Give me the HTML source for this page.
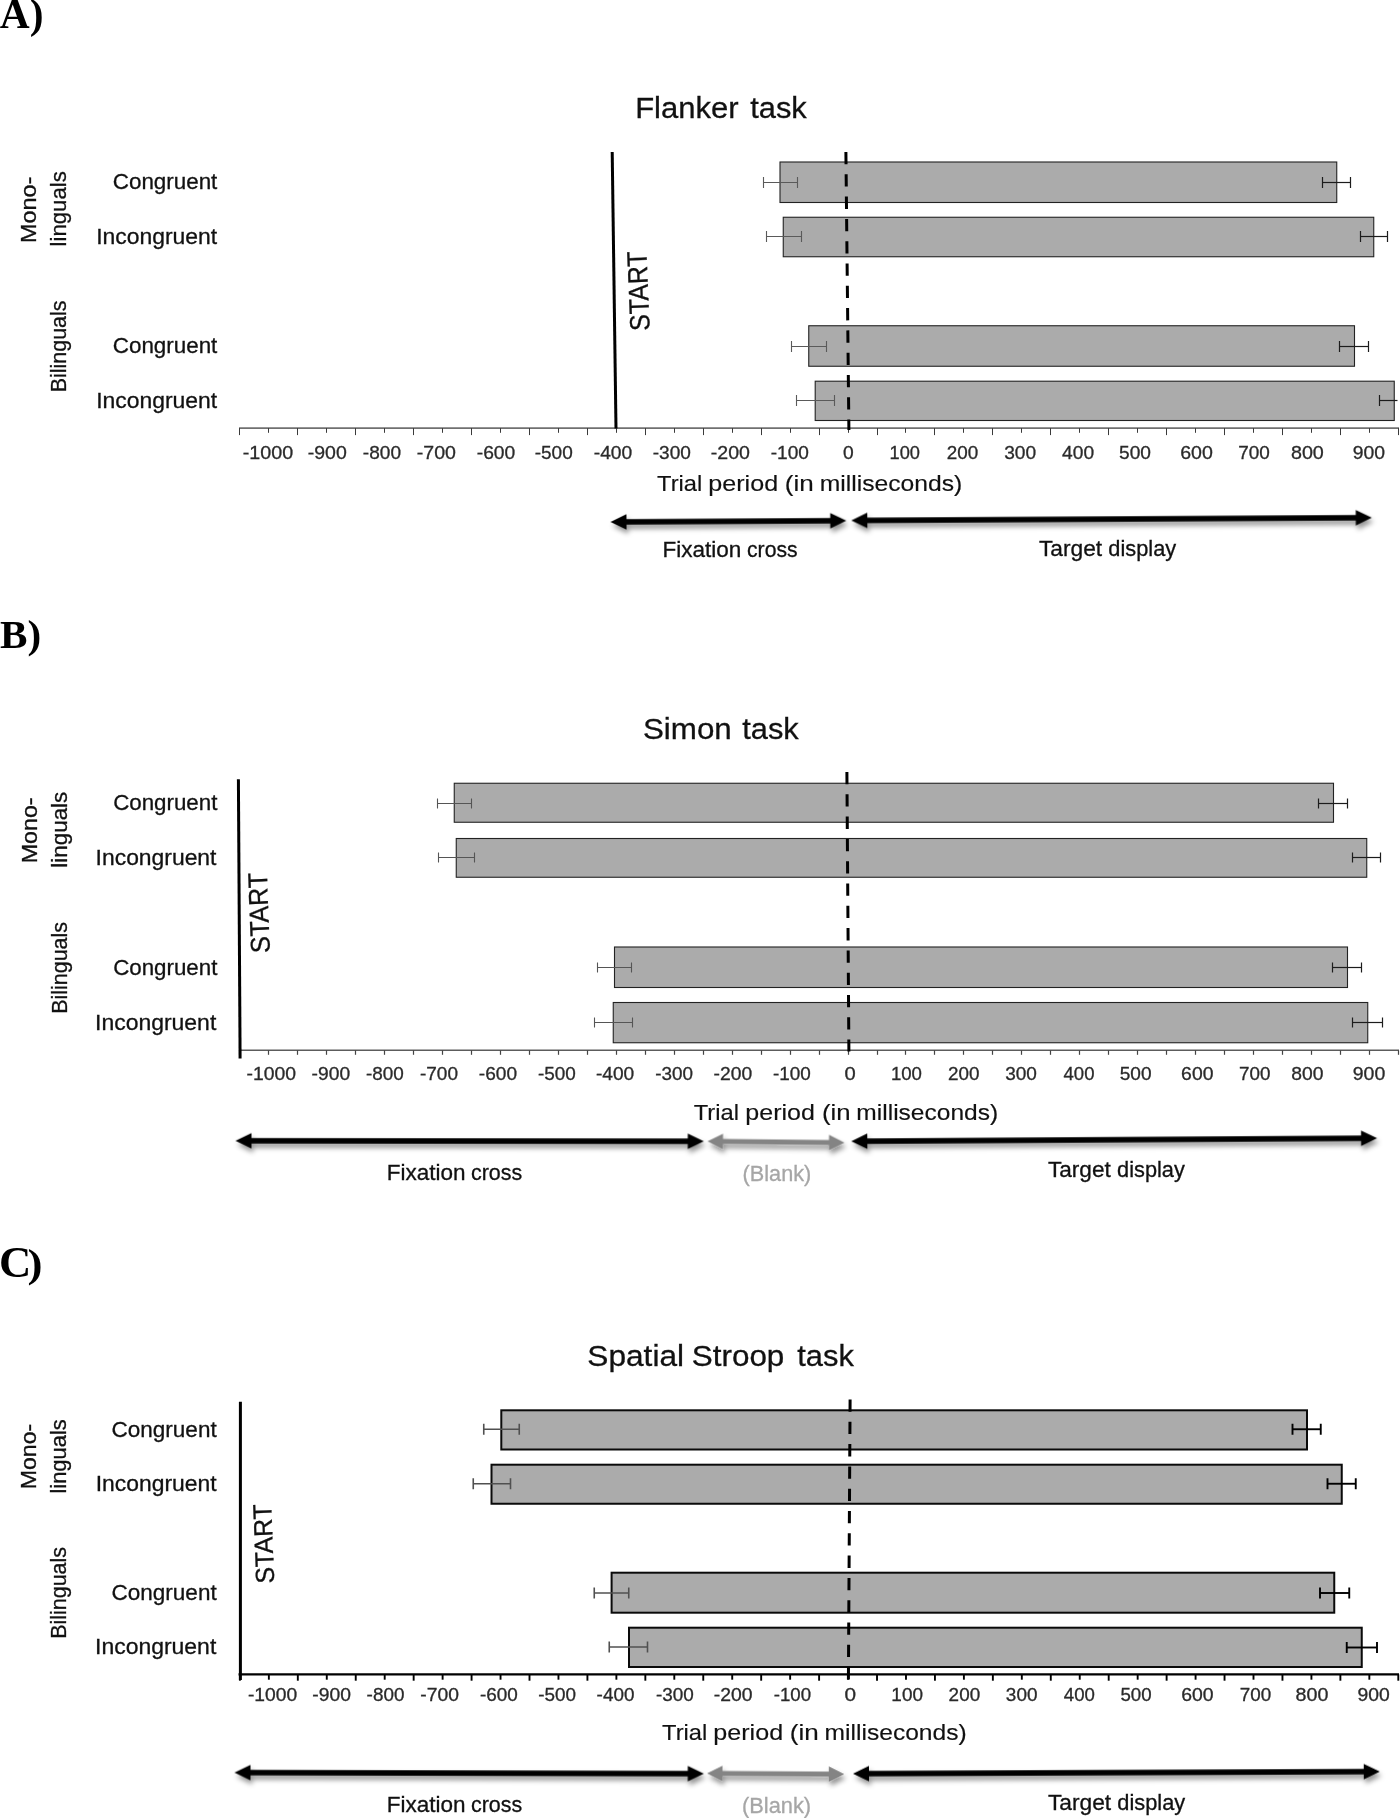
<!DOCTYPE html>
<html lang="en">
<head>
<meta charset="utf-8">
<title>Trial period figure</title>
<style>
html,body{margin:0;padding:0;background:#fff;}
body{width:1400px;height:1818px;overflow:hidden;font-family:"Liberation Sans",sans-serif;}
svg{display:block;position:absolute;left:0;top:0;}
text{white-space:pre;}
</style>
</head>
<body>
<svg width="1400" height="1818" viewBox="0 0 1400 1818">
<defs><filter id="sh" x="-5%" y="-150%" width="110%" height="400%"><feDropShadow dx="1.8" dy="4.1" stdDeviation="2.7" flood-color="#000" flood-opacity="0.42"/></filter></defs>
<rect x="0" y="0" width="1400" height="1818" fill="#fff"/>
<g id="shapes">
<line x1="239.00" y1="428.10" x2="1399.00" y2="428.10" stroke="#707070" stroke-width="1.6" />
<line x1="239.50" y1="428.10" x2="239.50" y2="435.10" stroke="#3a3a3a" stroke-width="1" />
<line x1="268.50" y1="428.10" x2="268.50" y2="432.80" stroke="#3a3a3a" stroke-width="1" />
<line x1="297.50" y1="428.10" x2="297.50" y2="435.10" stroke="#3a3a3a" stroke-width="1" />
<line x1="326.50" y1="428.10" x2="326.50" y2="432.80" stroke="#3a3a3a" stroke-width="1" />
<line x1="355.50" y1="428.10" x2="355.50" y2="435.10" stroke="#3a3a3a" stroke-width="1" />
<line x1="384.50" y1="428.10" x2="384.50" y2="432.80" stroke="#3a3a3a" stroke-width="1" />
<line x1="413.50" y1="428.10" x2="413.50" y2="435.10" stroke="#3a3a3a" stroke-width="1" />
<line x1="442.50" y1="428.10" x2="442.50" y2="432.80" stroke="#3a3a3a" stroke-width="1" />
<line x1="471.50" y1="428.10" x2="471.50" y2="435.10" stroke="#3a3a3a" stroke-width="1" />
<line x1="500.50" y1="428.10" x2="500.50" y2="432.80" stroke="#3a3a3a" stroke-width="1" />
<line x1="529.50" y1="428.10" x2="529.50" y2="435.10" stroke="#3a3a3a" stroke-width="1" />
<line x1="558.50" y1="428.10" x2="558.50" y2="432.80" stroke="#3a3a3a" stroke-width="1" />
<line x1="587.50" y1="428.10" x2="587.50" y2="435.10" stroke="#3a3a3a" stroke-width="1" />
<line x1="616.50" y1="428.10" x2="616.50" y2="432.80" stroke="#3a3a3a" stroke-width="1" />
<line x1="645.50" y1="428.10" x2="645.50" y2="435.10" stroke="#3a3a3a" stroke-width="1" />
<line x1="674.50" y1="428.10" x2="674.50" y2="432.80" stroke="#3a3a3a" stroke-width="1" />
<line x1="703.50" y1="428.10" x2="703.50" y2="435.10" stroke="#3a3a3a" stroke-width="1" />
<line x1="732.50" y1="428.10" x2="732.50" y2="432.80" stroke="#3a3a3a" stroke-width="1" />
<line x1="761.50" y1="428.10" x2="761.50" y2="435.10" stroke="#3a3a3a" stroke-width="1" />
<line x1="790.50" y1="428.10" x2="790.50" y2="432.80" stroke="#3a3a3a" stroke-width="1" />
<line x1="819.50" y1="428.10" x2="819.50" y2="435.10" stroke="#3a3a3a" stroke-width="1" />
<line x1="848.50" y1="428.10" x2="848.50" y2="432.80" stroke="#3a3a3a" stroke-width="1" />
<line x1="877.50" y1="428.10" x2="877.50" y2="435.10" stroke="#3a3a3a" stroke-width="1" />
<line x1="905.50" y1="428.10" x2="905.50" y2="432.80" stroke="#3a3a3a" stroke-width="1" />
<line x1="934.50" y1="428.10" x2="934.50" y2="435.10" stroke="#3a3a3a" stroke-width="1" />
<line x1="963.50" y1="428.10" x2="963.50" y2="432.80" stroke="#3a3a3a" stroke-width="1" />
<line x1="992.50" y1="428.10" x2="992.50" y2="435.10" stroke="#3a3a3a" stroke-width="1" />
<line x1="1021.50" y1="428.10" x2="1021.50" y2="432.80" stroke="#3a3a3a" stroke-width="1" />
<line x1="1050.50" y1="428.10" x2="1050.50" y2="435.10" stroke="#3a3a3a" stroke-width="1" />
<line x1="1079.50" y1="428.10" x2="1079.50" y2="432.80" stroke="#3a3a3a" stroke-width="1" />
<line x1="1108.50" y1="428.10" x2="1108.50" y2="435.10" stroke="#3a3a3a" stroke-width="1" />
<line x1="1137.50" y1="428.10" x2="1137.50" y2="432.80" stroke="#3a3a3a" stroke-width="1" />
<line x1="1166.50" y1="428.10" x2="1166.50" y2="435.10" stroke="#3a3a3a" stroke-width="1" />
<line x1="1195.50" y1="428.10" x2="1195.50" y2="432.80" stroke="#3a3a3a" stroke-width="1" />
<line x1="1224.50" y1="428.10" x2="1224.50" y2="435.10" stroke="#3a3a3a" stroke-width="1" />
<line x1="1253.50" y1="428.10" x2="1253.50" y2="432.80" stroke="#3a3a3a" stroke-width="1" />
<line x1="1282.50" y1="428.10" x2="1282.50" y2="435.10" stroke="#3a3a3a" stroke-width="1" />
<line x1="1311.50" y1="428.10" x2="1311.50" y2="432.80" stroke="#3a3a3a" stroke-width="1" />
<line x1="1340.50" y1="428.10" x2="1340.50" y2="435.10" stroke="#3a3a3a" stroke-width="1" />
<line x1="1369.50" y1="428.10" x2="1369.50" y2="432.80" stroke="#3a3a3a" stroke-width="1" />
<line x1="1398.50" y1="428.10" x2="1398.50" y2="435.10" stroke="#3a3a3a" stroke-width="1" />
<rect x="780.00" y="162.00" width="556.75" height="40.50" fill="#ababab" stroke="#222" stroke-width="1.1"/>
<rect x="783.25" y="217.25" width="590.50" height="39.50" fill="#ababab" stroke="#222" stroke-width="1.1"/>
<rect x="808.75" y="325.75" width="545.75" height="40.50" fill="#ababab" stroke="#222" stroke-width="1.1"/>
<rect x="815.20" y="381.20" width="579.05" height="39.30" fill="#ababab" stroke="#222" stroke-width="1.1"/>
<line x1="763.50" y1="182.50" x2="797.50" y2="182.50" stroke="#5a5a5a" stroke-width="1.1" />
<line x1="763.50" y1="177.00" x2="763.50" y2="188.00" stroke="#5a5a5a" stroke-width="1.1" />
<line x1="797.50" y1="177.00" x2="797.50" y2="188.00" stroke="#5a5a5a" stroke-width="1.1" />
<line x1="766.50" y1="236.50" x2="801.50" y2="236.50" stroke="#5a5a5a" stroke-width="1.1" />
<line x1="766.50" y1="231.00" x2="766.50" y2="242.00" stroke="#5a5a5a" stroke-width="1.1" />
<line x1="801.50" y1="231.00" x2="801.50" y2="242.00" stroke="#5a5a5a" stroke-width="1.1" />
<line x1="791.50" y1="346.50" x2="826.50" y2="346.50" stroke="#5a5a5a" stroke-width="1.1" />
<line x1="791.50" y1="341.00" x2="791.50" y2="352.00" stroke="#5a5a5a" stroke-width="1.1" />
<line x1="826.50" y1="341.00" x2="826.50" y2="352.00" stroke="#5a5a5a" stroke-width="1.1" />
<line x1="796.50" y1="400.50" x2="834.50" y2="400.50" stroke="#5a5a5a" stroke-width="1.1" />
<line x1="796.50" y1="395.00" x2="796.50" y2="406.00" stroke="#5a5a5a" stroke-width="1.1" />
<line x1="834.50" y1="395.00" x2="834.50" y2="406.00" stroke="#5a5a5a" stroke-width="1.1" />
<line x1="1322.50" y1="182.50" x2="1350.50" y2="182.50" stroke="#1c1c1c" stroke-width="1.2" />
<line x1="1322.50" y1="177.00" x2="1322.50" y2="188.00" stroke="#1c1c1c" stroke-width="1.2" />
<line x1="1350.50" y1="177.00" x2="1350.50" y2="188.00" stroke="#1c1c1c" stroke-width="1.2" />
<line x1="1360.50" y1="236.50" x2="1387.50" y2="236.50" stroke="#1c1c1c" stroke-width="1.2" />
<line x1="1360.50" y1="231.00" x2="1360.50" y2="242.00" stroke="#1c1c1c" stroke-width="1.2" />
<line x1="1387.50" y1="231.00" x2="1387.50" y2="242.00" stroke="#1c1c1c" stroke-width="1.2" />
<line x1="1339.50" y1="346.50" x2="1368.50" y2="346.50" stroke="#1c1c1c" stroke-width="1.2" />
<line x1="1339.50" y1="341.00" x2="1339.50" y2="352.00" stroke="#1c1c1c" stroke-width="1.2" />
<line x1="1368.50" y1="341.00" x2="1368.50" y2="352.00" stroke="#1c1c1c" stroke-width="1.2" />
<line x1="1379.50" y1="400.50" x2="1397.50" y2="400.50" stroke="#1c1c1c" stroke-width="1.2" />
<line x1="1379.50" y1="395.00" x2="1379.50" y2="406.00" stroke="#1c1c1c" stroke-width="1.2" />
<line x1="845.90" y1="152.00" x2="848.90" y2="430.00" stroke="#000" stroke-width="3" stroke-dasharray="12.3 10" stroke-linecap="butt"/>
<line x1="612.20" y1="152.00" x2="616.00" y2="428.50" stroke="#000" stroke-width="3" />
<line x1="238.90" y1="1050.30" x2="1399.00" y2="1050.30" stroke="#5c5c5c" stroke-width="1.4" />
<line x1="239.50" y1="1050.30" x2="239.50" y2="1054.80" stroke="#444" stroke-width="1.2" />
<line x1="268.50" y1="1050.30" x2="268.50" y2="1054.80" stroke="#444" stroke-width="1.2" />
<line x1="297.50" y1="1050.30" x2="297.50" y2="1054.80" stroke="#444" stroke-width="1.2" />
<line x1="326.50" y1="1050.30" x2="326.50" y2="1054.80" stroke="#444" stroke-width="1.2" />
<line x1="355.50" y1="1050.30" x2="355.50" y2="1054.80" stroke="#444" stroke-width="1.2" />
<line x1="384.50" y1="1050.30" x2="384.50" y2="1054.80" stroke="#444" stroke-width="1.2" />
<line x1="413.50" y1="1050.30" x2="413.50" y2="1054.80" stroke="#444" stroke-width="1.2" />
<line x1="442.50" y1="1050.30" x2="442.50" y2="1054.80" stroke="#444" stroke-width="1.2" />
<line x1="471.50" y1="1050.30" x2="471.50" y2="1054.80" stroke="#444" stroke-width="1.2" />
<line x1="500.50" y1="1050.30" x2="500.50" y2="1054.80" stroke="#444" stroke-width="1.2" />
<line x1="529.50" y1="1050.30" x2="529.50" y2="1054.80" stroke="#444" stroke-width="1.2" />
<line x1="558.50" y1="1050.30" x2="558.50" y2="1054.80" stroke="#444" stroke-width="1.2" />
<line x1="587.50" y1="1050.30" x2="587.50" y2="1054.80" stroke="#444" stroke-width="1.2" />
<line x1="616.50" y1="1050.30" x2="616.50" y2="1054.80" stroke="#444" stroke-width="1.2" />
<line x1="645.50" y1="1050.30" x2="645.50" y2="1054.80" stroke="#444" stroke-width="1.2" />
<line x1="674.50" y1="1050.30" x2="674.50" y2="1054.80" stroke="#444" stroke-width="1.2" />
<line x1="703.50" y1="1050.30" x2="703.50" y2="1054.80" stroke="#444" stroke-width="1.2" />
<line x1="732.50" y1="1050.30" x2="732.50" y2="1054.80" stroke="#444" stroke-width="1.2" />
<line x1="761.50" y1="1050.30" x2="761.50" y2="1054.80" stroke="#444" stroke-width="1.2" />
<line x1="790.50" y1="1050.30" x2="790.50" y2="1054.80" stroke="#444" stroke-width="1.2" />
<line x1="819.50" y1="1050.30" x2="819.50" y2="1054.80" stroke="#444" stroke-width="1.2" />
<line x1="848.50" y1="1050.30" x2="848.50" y2="1054.80" stroke="#444" stroke-width="1.2" />
<line x1="877.50" y1="1050.30" x2="877.50" y2="1054.80" stroke="#444" stroke-width="1.2" />
<line x1="905.50" y1="1050.30" x2="905.50" y2="1054.80" stroke="#444" stroke-width="1.2" />
<line x1="934.50" y1="1050.30" x2="934.50" y2="1054.80" stroke="#444" stroke-width="1.2" />
<line x1="963.50" y1="1050.30" x2="963.50" y2="1054.80" stroke="#444" stroke-width="1.2" />
<line x1="992.50" y1="1050.30" x2="992.50" y2="1054.80" stroke="#444" stroke-width="1.2" />
<line x1="1021.50" y1="1050.30" x2="1021.50" y2="1054.80" stroke="#444" stroke-width="1.2" />
<line x1="1050.50" y1="1050.30" x2="1050.50" y2="1054.80" stroke="#444" stroke-width="1.2" />
<line x1="1079.50" y1="1050.30" x2="1079.50" y2="1054.80" stroke="#444" stroke-width="1.2" />
<line x1="1108.50" y1="1050.30" x2="1108.50" y2="1054.80" stroke="#444" stroke-width="1.2" />
<line x1="1137.50" y1="1050.30" x2="1137.50" y2="1054.80" stroke="#444" stroke-width="1.2" />
<line x1="1166.50" y1="1050.30" x2="1166.50" y2="1054.80" stroke="#444" stroke-width="1.2" />
<line x1="1195.50" y1="1050.30" x2="1195.50" y2="1054.80" stroke="#444" stroke-width="1.2" />
<line x1="1224.50" y1="1050.30" x2="1224.50" y2="1054.80" stroke="#444" stroke-width="1.2" />
<line x1="1253.50" y1="1050.30" x2="1253.50" y2="1054.80" stroke="#444" stroke-width="1.2" />
<line x1="1282.50" y1="1050.30" x2="1282.50" y2="1054.80" stroke="#444" stroke-width="1.2" />
<line x1="1311.50" y1="1050.30" x2="1311.50" y2="1054.80" stroke="#444" stroke-width="1.2" />
<line x1="1340.50" y1="1050.30" x2="1340.50" y2="1054.80" stroke="#444" stroke-width="1.2" />
<line x1="1369.50" y1="1050.30" x2="1369.50" y2="1054.80" stroke="#444" stroke-width="1.2" />
<line x1="1398.50" y1="1050.30" x2="1398.50" y2="1054.80" stroke="#444" stroke-width="1.2" />
<rect x="454.25" y="783.25" width="879.25" height="39.00" fill="#ababab" stroke="#222" stroke-width="1.1"/>
<rect x="456.25" y="838.50" width="910.50" height="38.75" fill="#ababab" stroke="#222" stroke-width="1.1"/>
<rect x="614.50" y="947.00" width="733.00" height="40.50" fill="#ababab" stroke="#222" stroke-width="1.1"/>
<rect x="613.25" y="1002.50" width="754.50" height="40.25" fill="#ababab" stroke="#222" stroke-width="1.1"/>
<line x1="437.50" y1="803.50" x2="471.50" y2="803.50" stroke="#555" stroke-width="1.1" />
<line x1="437.50" y1="798.50" x2="437.50" y2="808.50" stroke="#555" stroke-width="1.1" />
<line x1="471.50" y1="798.50" x2="471.50" y2="808.50" stroke="#555" stroke-width="1.1" />
<line x1="438.50" y1="857.50" x2="474.50" y2="857.50" stroke="#555" stroke-width="1.1" />
<line x1="438.50" y1="852.50" x2="438.50" y2="862.50" stroke="#555" stroke-width="1.1" />
<line x1="474.50" y1="852.50" x2="474.50" y2="862.50" stroke="#555" stroke-width="1.1" />
<line x1="597.50" y1="967.50" x2="631.50" y2="967.50" stroke="#555" stroke-width="1.1" />
<line x1="597.50" y1="962.50" x2="597.50" y2="972.50" stroke="#555" stroke-width="1.1" />
<line x1="631.50" y1="962.50" x2="631.50" y2="972.50" stroke="#555" stroke-width="1.1" />
<line x1="594.50" y1="1022.50" x2="632.50" y2="1022.50" stroke="#555" stroke-width="1.1" />
<line x1="594.50" y1="1017.50" x2="594.50" y2="1027.50" stroke="#555" stroke-width="1.1" />
<line x1="632.50" y1="1017.50" x2="632.50" y2="1027.50" stroke="#555" stroke-width="1.1" />
<line x1="1318.50" y1="803.50" x2="1347.50" y2="803.50" stroke="#1c1c1c" stroke-width="1.2" />
<line x1="1318.50" y1="798.50" x2="1318.50" y2="808.50" stroke="#1c1c1c" stroke-width="1.2" />
<line x1="1347.50" y1="798.50" x2="1347.50" y2="808.50" stroke="#1c1c1c" stroke-width="1.2" />
<line x1="1352.50" y1="857.50" x2="1380.50" y2="857.50" stroke="#1c1c1c" stroke-width="1.2" />
<line x1="1352.50" y1="852.50" x2="1352.50" y2="862.50" stroke="#1c1c1c" stroke-width="1.2" />
<line x1="1380.50" y1="852.50" x2="1380.50" y2="862.50" stroke="#1c1c1c" stroke-width="1.2" />
<line x1="1332.50" y1="967.50" x2="1361.50" y2="967.50" stroke="#1c1c1c" stroke-width="1.2" />
<line x1="1332.50" y1="962.50" x2="1332.50" y2="972.50" stroke="#1c1c1c" stroke-width="1.2" />
<line x1="1361.50" y1="962.50" x2="1361.50" y2="972.50" stroke="#1c1c1c" stroke-width="1.2" />
<line x1="1352.50" y1="1022.50" x2="1382.50" y2="1022.50" stroke="#1c1c1c" stroke-width="1.2" />
<line x1="1352.50" y1="1017.50" x2="1352.50" y2="1027.50" stroke="#1c1c1c" stroke-width="1.2" />
<line x1="1382.50" y1="1017.50" x2="1382.50" y2="1027.50" stroke="#1c1c1c" stroke-width="1.2" />
<line x1="846.90" y1="772.00" x2="848.90" y2="1051.50" stroke="#000" stroke-width="3" stroke-dasharray="12.3 10" stroke-linecap="butt"/>
<line x1="238.40" y1="779.30" x2="240.10" y2="1058.60" stroke="#000" stroke-width="3" />
<line x1="238.55" y1="1674.40" x2="1399.00" y2="1674.40" stroke="#000" stroke-width="2.3" />
<line x1="239.90" y1="1674.40" x2="239.90" y2="1680.70" stroke="#000" stroke-width="1.9" />
<line x1="268.86" y1="1674.40" x2="268.86" y2="1679.70" stroke="#000" stroke-width="1.9" />
<line x1="297.82" y1="1674.40" x2="297.82" y2="1680.70" stroke="#000" stroke-width="1.9" />
<line x1="326.78" y1="1674.40" x2="326.78" y2="1679.70" stroke="#000" stroke-width="1.9" />
<line x1="355.74" y1="1674.40" x2="355.74" y2="1680.70" stroke="#000" stroke-width="1.9" />
<line x1="384.70" y1="1674.40" x2="384.70" y2="1679.70" stroke="#000" stroke-width="1.9" />
<line x1="413.66" y1="1674.40" x2="413.66" y2="1680.70" stroke="#000" stroke-width="1.9" />
<line x1="442.62" y1="1674.40" x2="442.62" y2="1679.70" stroke="#000" stroke-width="1.9" />
<line x1="471.58" y1="1674.40" x2="471.58" y2="1680.70" stroke="#000" stroke-width="1.9" />
<line x1="500.54" y1="1674.40" x2="500.54" y2="1679.70" stroke="#000" stroke-width="1.9" />
<line x1="529.50" y1="1674.40" x2="529.50" y2="1680.70" stroke="#000" stroke-width="1.9" />
<line x1="558.46" y1="1674.40" x2="558.46" y2="1679.70" stroke="#000" stroke-width="1.9" />
<line x1="587.42" y1="1674.40" x2="587.42" y2="1680.70" stroke="#000" stroke-width="1.9" />
<line x1="616.38" y1="1674.40" x2="616.38" y2="1679.70" stroke="#000" stroke-width="1.9" />
<line x1="645.34" y1="1674.40" x2="645.34" y2="1680.70" stroke="#000" stroke-width="1.9" />
<line x1="674.30" y1="1674.40" x2="674.30" y2="1679.70" stroke="#000" stroke-width="1.9" />
<line x1="703.26" y1="1674.40" x2="703.26" y2="1680.70" stroke="#000" stroke-width="1.9" />
<line x1="732.22" y1="1674.40" x2="732.22" y2="1679.70" stroke="#000" stroke-width="1.9" />
<line x1="761.18" y1="1674.40" x2="761.18" y2="1680.70" stroke="#000" stroke-width="1.9" />
<line x1="790.14" y1="1674.40" x2="790.14" y2="1679.70" stroke="#000" stroke-width="1.9" />
<line x1="819.10" y1="1674.40" x2="819.10" y2="1680.70" stroke="#000" stroke-width="1.9" />
<line x1="848.06" y1="1674.40" x2="848.06" y2="1679.70" stroke="#000" stroke-width="1.9" />
<line x1="877.02" y1="1674.40" x2="877.02" y2="1680.70" stroke="#000" stroke-width="1.9" />
<line x1="905.98" y1="1674.40" x2="905.98" y2="1679.70" stroke="#000" stroke-width="1.9" />
<line x1="934.94" y1="1674.40" x2="934.94" y2="1680.70" stroke="#000" stroke-width="1.9" />
<line x1="963.90" y1="1674.40" x2="963.90" y2="1679.70" stroke="#000" stroke-width="1.9" />
<line x1="992.86" y1="1674.40" x2="992.86" y2="1680.70" stroke="#000" stroke-width="1.9" />
<line x1="1021.82" y1="1674.40" x2="1021.82" y2="1679.70" stroke="#000" stroke-width="1.9" />
<line x1="1050.78" y1="1674.40" x2="1050.78" y2="1680.70" stroke="#000" stroke-width="1.9" />
<line x1="1079.74" y1="1674.40" x2="1079.74" y2="1679.70" stroke="#000" stroke-width="1.9" />
<line x1="1108.70" y1="1674.40" x2="1108.70" y2="1680.70" stroke="#000" stroke-width="1.9" />
<line x1="1137.66" y1="1674.40" x2="1137.66" y2="1679.70" stroke="#000" stroke-width="1.9" />
<line x1="1166.62" y1="1674.40" x2="1166.62" y2="1680.70" stroke="#000" stroke-width="1.9" />
<line x1="1195.58" y1="1674.40" x2="1195.58" y2="1679.70" stroke="#000" stroke-width="1.9" />
<line x1="1224.54" y1="1674.40" x2="1224.54" y2="1680.70" stroke="#000" stroke-width="1.9" />
<line x1="1253.50" y1="1674.40" x2="1253.50" y2="1679.70" stroke="#000" stroke-width="1.9" />
<line x1="1282.46" y1="1674.40" x2="1282.46" y2="1680.70" stroke="#000" stroke-width="1.9" />
<line x1="1311.42" y1="1674.40" x2="1311.42" y2="1679.70" stroke="#000" stroke-width="1.9" />
<line x1="1340.38" y1="1674.40" x2="1340.38" y2="1680.70" stroke="#000" stroke-width="1.9" />
<line x1="1369.34" y1="1674.40" x2="1369.34" y2="1679.70" stroke="#000" stroke-width="1.9" />
<line x1="1398.30" y1="1674.40" x2="1398.30" y2="1680.70" stroke="#000" stroke-width="1.9" />
<rect x="501.30" y="1410.30" width="805.70" height="39.20" fill="#ababab" stroke="#0a0a0a" stroke-width="2"/>
<rect x="491.50" y="1464.70" width="850.25" height="39.05" fill="#ababab" stroke="#0a0a0a" stroke-width="2"/>
<rect x="611.60" y="1572.70" width="722.65" height="40.00" fill="#ababab" stroke="#0a0a0a" stroke-width="2"/>
<rect x="629.00" y="1627.70" width="732.75" height="39.30" fill="#ababab" stroke="#0a0a0a" stroke-width="2"/>
<line x1="483.75" y1="1429.25" x2="519.25" y2="1429.25" stroke="#505050" stroke-width="1.6" />
<line x1="483.75" y1="1423.75" x2="483.75" y2="1434.75" stroke="#505050" stroke-width="1.6" />
<line x1="519.25" y1="1423.75" x2="519.25" y2="1434.75" stroke="#505050" stroke-width="1.6" />
<line x1="473.25" y1="1483.75" x2="510.50" y2="1483.75" stroke="#505050" stroke-width="1.6" />
<line x1="473.25" y1="1478.25" x2="473.25" y2="1489.25" stroke="#505050" stroke-width="1.6" />
<line x1="510.50" y1="1478.25" x2="510.50" y2="1489.25" stroke="#505050" stroke-width="1.6" />
<line x1="594.25" y1="1593.00" x2="628.75" y2="1593.00" stroke="#505050" stroke-width="1.6" />
<line x1="594.25" y1="1587.50" x2="594.25" y2="1598.50" stroke="#505050" stroke-width="1.6" />
<line x1="628.75" y1="1587.50" x2="628.75" y2="1598.50" stroke="#505050" stroke-width="1.6" />
<line x1="609.25" y1="1647.00" x2="647.50" y2="1647.00" stroke="#505050" stroke-width="1.6" />
<line x1="609.25" y1="1641.50" x2="609.25" y2="1652.50" stroke="#505050" stroke-width="1.6" />
<line x1="647.50" y1="1641.50" x2="647.50" y2="1652.50" stroke="#505050" stroke-width="1.6" />
<line x1="1292.50" y1="1429.25" x2="1320.75" y2="1429.25" stroke="#000" stroke-width="1.9" />
<line x1="1292.50" y1="1423.75" x2="1292.50" y2="1434.75" stroke="#000" stroke-width="1.9" />
<line x1="1320.75" y1="1423.75" x2="1320.75" y2="1434.75" stroke="#000" stroke-width="1.9" />
<line x1="1327.50" y1="1483.75" x2="1355.75" y2="1483.75" stroke="#000" stroke-width="1.9" />
<line x1="1327.50" y1="1478.25" x2="1327.50" y2="1489.25" stroke="#000" stroke-width="1.9" />
<line x1="1355.75" y1="1478.25" x2="1355.75" y2="1489.25" stroke="#000" stroke-width="1.9" />
<line x1="1320.00" y1="1593.00" x2="1349.25" y2="1593.00" stroke="#000" stroke-width="1.9" />
<line x1="1320.00" y1="1587.50" x2="1320.00" y2="1598.50" stroke="#000" stroke-width="1.9" />
<line x1="1349.25" y1="1587.50" x2="1349.25" y2="1598.50" stroke="#000" stroke-width="1.9" />
<line x1="1346.75" y1="1647.50" x2="1377.00" y2="1647.50" stroke="#000" stroke-width="1.9" />
<line x1="1346.75" y1="1642.00" x2="1346.75" y2="1653.00" stroke="#000" stroke-width="1.9" />
<line x1="1377.00" y1="1642.00" x2="1377.00" y2="1653.00" stroke="#000" stroke-width="1.9" />
<line x1="850.10" y1="1399.50" x2="848.40" y2="1680.00" stroke="#000" stroke-width="3" stroke-dasharray="12.3 10" stroke-linecap="butt"/>
<line x1="240.40" y1="1401.80" x2="240.40" y2="1680.00" stroke="#000" stroke-width="3" />
<path d="M0 0 L16.00 -7.75 L16.00 -2.70 L219.80 -2.70 L219.80 -7.75 L235.80 0 L219.80 7.75 L219.80 2.70 L16.00 2.70 L16.00 7.75 Z" fill="#000" transform="translate(610.50 522.00) rotate(-0.316)" filter="url(#sh)"/>
<path d="M0 0 L16.00 -7.75 L16.00 -2.70 L504.51 -2.70 L504.51 -7.75 L520.51 0 L504.51 7.75 L504.51 2.70 L16.00 2.70 L16.00 7.75 Z" fill="#000" transform="translate(851.30 520.50) rotate(-0.308)" filter="url(#sh)"/>
<path d="M0 0 L16.00 -7.75 L16.00 -2.70 L452.30 -2.70 L452.30 -7.75 L468.30 0 L452.30 7.75 L452.30 2.70 L16.00 2.70 L16.00 7.75 Z" fill="#000" transform="translate(235.50 1140.80) rotate(0.061)" filter="url(#sh)"/>
<path d="M0 0 L15.50 -7.75 L15.50 -2.40 L121.51 -2.40 L121.51 -7.75 L137.01 0 L121.51 7.75 L121.51 2.40 L15.50 2.40 L15.50 7.75 Z" fill="#848484" transform="translate(707.50 1141.30) rotate(0.585)" filter="url(#sh)"/>
<path d="M0 0 L16.00 -7.75 L16.00 -2.70 L509.81 -2.70 L509.81 -7.75 L525.81 0 L509.81 7.75 L509.81 2.70 L16.00 2.70 L16.00 7.75 Z" fill="#000" transform="translate(851.30 1141.30) rotate(-0.338)" filter="url(#sh)"/>
<path d="M0 0 L16.00 -7.75 L16.00 -2.70 L453.30 -2.70 L453.30 -7.75 L469.30 0 L453.30 7.75 L453.30 2.70 L16.00 2.70 L16.00 7.75 Z" fill="#000" transform="translate(234.50 1772.60) rotate(0.134)" filter="url(#sh)"/>
<path d="M0 0 L15.50 -7.75 L15.50 -2.40 L121.80 -2.40 L121.80 -7.75 L137.30 0 L121.80 7.75 L121.80 2.40 L15.50 2.40 L15.50 7.75 Z" fill="#848484" transform="translate(707.00 1773.40) rotate(0.334)" filter="url(#sh)"/>
<path d="M0 0 L16.00 -7.75 L16.00 -2.70 L510.80 -2.70 L510.80 -7.75 L526.80 0 L510.80 7.75 L510.80 2.70 L16.00 2.70 L16.00 7.75 Z" fill="#000" transform="translate(853.00 1773.70) rotate(-0.228)" filter="url(#sh)"/>
</g>
<g id="labels" style="opacity:0.999">
<text x="-0.25" y="27.70" textLength="43.67" lengthAdjust="spacingAndGlyphs" style='font-family:"Liberation Serif", serif;font-size:41.5px;font-weight:bold;fill:#000;stroke:#000;stroke-width:0px'>A)</text>
<text x="0.12" y="648.00" textLength="41.12" lengthAdjust="spacingAndGlyphs" style='font-family:"Liberation Serif", serif;font-size:41px;font-weight:bold;fill:#000;stroke:#000;stroke-width:0px'>B)</text>
<text x="-0.90" y="1276.50" textLength="32.30" lengthAdjust="spacingAndGlyphs" style='font-family:"Liberation Serif", serif;font-size:45px;font-weight:bold;fill:#000;stroke:#000;stroke-width:0px'>C</text>
<text x="27.60" y="1277.30" textLength="15.00" lengthAdjust="spacingAndGlyphs" style='font-family:"Liberation Serif", serif;font-size:41px;font-weight:bold;fill:#000;stroke:#000;stroke-width:0px'>)</text>
<text x="635.16" y="118.20" textLength="103.49" lengthAdjust="spacingAndGlyphs" style='font-family:"Liberation Sans", sans-serif;font-size:30px;font-weight:normal;fill:#111;stroke:#111;stroke-width:0.3px'>Flanker</text>
<text x="750.22" y="118.20" textLength="56.58" lengthAdjust="spacingAndGlyphs" style='font-family:"Liberation Sans", sans-serif;font-size:30px;font-weight:normal;fill:#111;stroke:#111;stroke-width:0.3px'>task</text>
<text x="642.94" y="738.60" textLength="88.81" lengthAdjust="spacingAndGlyphs" style='font-family:"Liberation Sans", sans-serif;font-size:30px;font-weight:normal;fill:#111;stroke:#111;stroke-width:0.3px'>Simon</text>
<text x="742.22" y="738.60" textLength="56.46" lengthAdjust="spacingAndGlyphs" style='font-family:"Liberation Sans", sans-serif;font-size:30px;font-weight:normal;fill:#111;stroke:#111;stroke-width:0.3px'>task</text>
<text x="587.28" y="1365.70" textLength="96.79" lengthAdjust="spacingAndGlyphs" style='font-family:"Liberation Sans", sans-serif;font-size:30px;font-weight:normal;fill:#111;stroke:#111;stroke-width:0.3px'>Spatial</text>
<text x="691.77" y="1365.70" textLength="92.57" lengthAdjust="spacingAndGlyphs" style='font-family:"Liberation Sans", sans-serif;font-size:30px;font-weight:normal;fill:#111;stroke:#111;stroke-width:0.3px'>Stroop</text>
<text x="797.30" y="1365.70" textLength="56.60" lengthAdjust="spacingAndGlyphs" style='font-family:"Liberation Sans", sans-serif;font-size:30px;font-weight:normal;fill:#111;stroke:#111;stroke-width:0.3px'>task</text>
<text x="112.79" y="188.75" textLength="104.54" lengthAdjust="spacingAndGlyphs" style='font-family:"Liberation Sans", sans-serif;font-size:21.8px;font-weight:normal;fill:#111;stroke:#111;stroke-width:0.3px'>Congruent</text>
<text x="96.17" y="243.75" textLength="120.99" lengthAdjust="spacingAndGlyphs" style='font-family:"Liberation Sans", sans-serif;font-size:21.8px;font-weight:normal;fill:#111;stroke:#111;stroke-width:0.3px'>Incongruent</text>
<text x="112.79" y="352.50" textLength="104.54" lengthAdjust="spacingAndGlyphs" style='font-family:"Liberation Sans", sans-serif;font-size:21.8px;font-weight:normal;fill:#111;stroke:#111;stroke-width:0.3px'>Congruent</text>
<text x="96.17" y="408.00" textLength="120.99" lengthAdjust="spacingAndGlyphs" style='font-family:"Liberation Sans", sans-serif;font-size:21.8px;font-weight:normal;fill:#111;stroke:#111;stroke-width:0.3px'>Incongruent</text>
<text x="113.20" y="810.00" textLength="104.20" lengthAdjust="spacingAndGlyphs" style='font-family:"Liberation Sans", sans-serif;font-size:21.8px;font-weight:normal;fill:#111;stroke:#111;stroke-width:0.3px'>Congruent</text>
<text x="95.64" y="865.00" textLength="120.83" lengthAdjust="spacingAndGlyphs" style='font-family:"Liberation Sans", sans-serif;font-size:21.8px;font-weight:normal;fill:#111;stroke:#111;stroke-width:0.3px'>Incongruent</text>
<text x="113.20" y="974.50" textLength="104.20" lengthAdjust="spacingAndGlyphs" style='font-family:"Liberation Sans", sans-serif;font-size:21.8px;font-weight:normal;fill:#111;stroke:#111;stroke-width:0.3px'>Congruent</text>
<text x="95.12" y="1029.50" textLength="121.16" lengthAdjust="spacingAndGlyphs" style='font-family:"Liberation Sans", sans-serif;font-size:21.8px;font-weight:normal;fill:#111;stroke:#111;stroke-width:0.3px'>Incongruent</text>
<text x="111.59" y="1436.75" textLength="105.07" lengthAdjust="spacingAndGlyphs" style='font-family:"Liberation Sans", sans-serif;font-size:21.8px;font-weight:normal;fill:#111;stroke:#111;stroke-width:0.3px'>Congruent</text>
<text x="95.77" y="1490.75" textLength="120.81" lengthAdjust="spacingAndGlyphs" style='font-family:"Liberation Sans", sans-serif;font-size:21.8px;font-weight:normal;fill:#111;stroke:#111;stroke-width:0.3px'>Incongruent</text>
<text x="111.59" y="1600.00" textLength="105.07" lengthAdjust="spacingAndGlyphs" style='font-family:"Liberation Sans", sans-serif;font-size:21.8px;font-weight:normal;fill:#111;stroke:#111;stroke-width:0.3px'>Congruent</text>
<text x="95.12" y="1654.25" textLength="121.16" lengthAdjust="spacingAndGlyphs" style='font-family:"Liberation Sans", sans-serif;font-size:21.8px;font-weight:normal;fill:#111;stroke:#111;stroke-width:0.3px'>Incongruent</text>
<text transform="translate(36.25 242.97) rotate(-90)" textLength="66.18" lengthAdjust="spacingAndGlyphs" style='font-family:"Liberation Sans", sans-serif;font-size:21.8px;font-weight:normal;fill:#111;stroke:#111;stroke-width:0.3px'>Mono-</text>
<text transform="translate(66.25 246.42) rotate(-90)" textLength="75.16" lengthAdjust="spacingAndGlyphs" style='font-family:"Liberation Sans", sans-serif;font-size:21.8px;font-weight:normal;fill:#111;stroke:#111;stroke-width:0.3px'>linguals</text>
<text transform="translate(66.25 392.20) rotate(-90)" textLength="91.65" lengthAdjust="spacingAndGlyphs" style='font-family:"Liberation Sans", sans-serif;font-size:21.8px;font-weight:normal;fill:#111;stroke:#111;stroke-width:0.3px'>Bilinguals</text>
<text transform="translate(37.00 863.36) rotate(-90)" textLength="65.96" lengthAdjust="spacingAndGlyphs" style='font-family:"Liberation Sans", sans-serif;font-size:21.8px;font-weight:normal;fill:#111;stroke:#111;stroke-width:0.3px'>Mono-</text>
<text transform="translate(66.50 867.65) rotate(-90)" textLength="75.94" lengthAdjust="spacingAndGlyphs" style='font-family:"Liberation Sans", sans-serif;font-size:21.8px;font-weight:normal;fill:#111;stroke:#111;stroke-width:0.3px'>linguals</text>
<text transform="translate(67.00 1013.85) rotate(-90)" textLength="91.89" lengthAdjust="spacingAndGlyphs" style='font-family:"Liberation Sans", sans-serif;font-size:21.8px;font-weight:normal;fill:#111;stroke:#111;stroke-width:0.3px'>Bilinguals</text>
<text transform="translate(36.25 1489.25) rotate(-90)" textLength="65.54" lengthAdjust="spacingAndGlyphs" style='font-family:"Liberation Sans", sans-serif;font-size:21.8px;font-weight:normal;fill:#111;stroke:#111;stroke-width:0.3px'>Mono-</text>
<text transform="translate(66.25 1493.62) rotate(-90)" textLength="74.43" lengthAdjust="spacingAndGlyphs" style='font-family:"Liberation Sans", sans-serif;font-size:21.8px;font-weight:normal;fill:#111;stroke:#111;stroke-width:0.3px'>linguals</text>
<text transform="translate(66.25 1638.85) rotate(-90)" textLength="91.89" lengthAdjust="spacingAndGlyphs" style='font-family:"Liberation Sans", sans-serif;font-size:21.8px;font-weight:normal;fill:#111;stroke:#111;stroke-width:0.3px'>Bilinguals</text>
<text transform="translate(649.70 330.49) rotate(-92.3)" textLength="79.66" lengthAdjust="spacingAndGlyphs" style='font-family:"Liberation Sans", sans-serif;font-size:28px;font-weight:normal;fill:#111;stroke:#111;stroke-width:0.3px'>START</text>
<text transform="translate(270.00 952.85) rotate(-92.3)" textLength="80.57" lengthAdjust="spacingAndGlyphs" style='font-family:"Liberation Sans", sans-serif;font-size:27.2px;font-weight:normal;fill:#111;stroke:#111;stroke-width:0.3px'>START</text>
<text transform="translate(274.30 1583.30) rotate(-92.3)" textLength="79.64" lengthAdjust="spacingAndGlyphs" style='font-family:"Liberation Sans", sans-serif;font-size:26.2px;font-weight:normal;fill:#111;stroke:#111;stroke-width:0.3px'>START</text>
<text x="657.09" y="490.70" textLength="45.20" lengthAdjust="spacingAndGlyphs" style='font-family:"Liberation Sans", sans-serif;font-size:22.2px;font-weight:normal;fill:#111;stroke:#111;stroke-width:0.15px'>Trial</text>
<text x="708.33" y="490.70" textLength="69.79" lengthAdjust="spacingAndGlyphs" style='font-family:"Liberation Sans", sans-serif;font-size:22.2px;font-weight:normal;fill:#111;stroke:#111;stroke-width:0.15px'>period</text>
<text x="784.84" y="490.70" textLength="28.97" lengthAdjust="spacingAndGlyphs" style='font-family:"Liberation Sans", sans-serif;font-size:22.2px;font-weight:normal;fill:#111;stroke:#111;stroke-width:0.15px'>(in</text>
<text x="819.68" y="490.70" textLength="142.62" lengthAdjust="spacingAndGlyphs" style='font-family:"Liberation Sans", sans-serif;font-size:22.2px;font-weight:normal;fill:#111;stroke:#111;stroke-width:0.15px'>milliseconds)</text>
<text x="693.74" y="1120.30" textLength="45.26" lengthAdjust="spacingAndGlyphs" style='font-family:"Liberation Sans", sans-serif;font-size:22.2px;font-weight:normal;fill:#111;stroke:#111;stroke-width:0.15px'>Trial</text>
<text x="745.30" y="1120.30" textLength="69.60" lengthAdjust="spacingAndGlyphs" style='font-family:"Liberation Sans", sans-serif;font-size:22.2px;font-weight:normal;fill:#111;stroke:#111;stroke-width:0.15px'>period</text>
<text x="821.97" y="1120.30" textLength="28.63" lengthAdjust="spacingAndGlyphs" style='font-family:"Liberation Sans", sans-serif;font-size:22.2px;font-weight:normal;fill:#111;stroke:#111;stroke-width:0.15px'>(in</text>
<text x="856.38" y="1120.30" textLength="141.72" lengthAdjust="spacingAndGlyphs" style='font-family:"Liberation Sans", sans-serif;font-size:22.2px;font-weight:normal;fill:#111;stroke:#111;stroke-width:0.15px'>milliseconds)</text>
<text x="662.09" y="1739.80" textLength="45.20" lengthAdjust="spacingAndGlyphs" style='font-family:"Liberation Sans", sans-serif;font-size:22.2px;font-weight:normal;fill:#111;stroke:#111;stroke-width:0.15px'>Trial</text>
<text x="713.33" y="1739.80" textLength="69.79" lengthAdjust="spacingAndGlyphs" style='font-family:"Liberation Sans", sans-serif;font-size:22.2px;font-weight:normal;fill:#111;stroke:#111;stroke-width:0.15px'>period</text>
<text x="789.84" y="1739.80" textLength="28.97" lengthAdjust="spacingAndGlyphs" style='font-family:"Liberation Sans", sans-serif;font-size:22.2px;font-weight:normal;fill:#111;stroke:#111;stroke-width:0.15px'>(in</text>
<text x="824.61" y="1739.80" textLength="142.09" lengthAdjust="spacingAndGlyphs" style='font-family:"Liberation Sans", sans-serif;font-size:22.2px;font-weight:normal;fill:#111;stroke:#111;stroke-width:0.15px'>milliseconds)</text>
<text x="662.52" y="556.80" textLength="78.84" lengthAdjust="spacingAndGlyphs" style='font-family:"Liberation Sans", sans-serif;font-size:21.6px;font-weight:normal;fill:#111;stroke:#111;stroke-width:0.3px'>Fixation</text>
<text x="747.01" y="556.80" textLength="50.58" lengthAdjust="spacingAndGlyphs" style='font-family:"Liberation Sans", sans-serif;font-size:21.6px;font-weight:normal;fill:#111;stroke:#111;stroke-width:0.3px'>cross</text>
<text x="386.84" y="1179.70" textLength="78.83" lengthAdjust="spacingAndGlyphs" style='font-family:"Liberation Sans", sans-serif;font-size:21.6px;font-weight:normal;fill:#111;stroke:#111;stroke-width:0.3px'>Fixation</text>
<text x="470.92" y="1179.70" textLength="51.26" lengthAdjust="spacingAndGlyphs" style='font-family:"Liberation Sans", sans-serif;font-size:21.6px;font-weight:normal;fill:#111;stroke:#111;stroke-width:0.3px'>cross</text>
<text x="386.84" y="1812.20" textLength="78.83" lengthAdjust="spacingAndGlyphs" style='font-family:"Liberation Sans", sans-serif;font-size:21.6px;font-weight:normal;fill:#111;stroke:#111;stroke-width:0.3px'>Fixation</text>
<text x="470.92" y="1812.20" textLength="51.26" lengthAdjust="spacingAndGlyphs" style='font-family:"Liberation Sans", sans-serif;font-size:21.6px;font-weight:normal;fill:#111;stroke:#111;stroke-width:0.3px'>cross</text>
<text x="1038.93" y="555.90" textLength="63.26" lengthAdjust="spacingAndGlyphs" style='font-family:"Liberation Sans", sans-serif;font-size:21.6px;font-weight:normal;fill:#111;stroke:#111;stroke-width:0.3px'>Target</text>
<text x="1108.34" y="555.90" textLength="67.82" lengthAdjust="spacingAndGlyphs" style='font-family:"Liberation Sans", sans-serif;font-size:21.6px;font-weight:normal;fill:#111;stroke:#111;stroke-width:0.3px'>display</text>
<text x="1047.92" y="1177.20" textLength="62.91" lengthAdjust="spacingAndGlyphs" style='font-family:"Liberation Sans", sans-serif;font-size:21.6px;font-weight:normal;fill:#111;stroke:#111;stroke-width:0.3px'>Target</text>
<text x="1117.14" y="1177.20" textLength="67.66" lengthAdjust="spacingAndGlyphs" style='font-family:"Liberation Sans", sans-serif;font-size:21.6px;font-weight:normal;fill:#111;stroke:#111;stroke-width:0.3px'>display</text>
<text x="1047.93" y="1809.90" textLength="63.26" lengthAdjust="spacingAndGlyphs" style='font-family:"Liberation Sans", sans-serif;font-size:21.6px;font-weight:normal;fill:#111;stroke:#111;stroke-width:0.3px'>Target</text>
<text x="1117.34" y="1809.90" textLength="67.82" lengthAdjust="spacingAndGlyphs" style='font-family:"Liberation Sans", sans-serif;font-size:21.6px;font-weight:normal;fill:#111;stroke:#111;stroke-width:0.3px'>display</text>
<text x="742.61" y="1181.25" textLength="68.67" lengthAdjust="spacingAndGlyphs" style='font-family:"Liberation Sans", sans-serif;font-size:21.6px;font-weight:normal;fill:#a6a6a6;stroke:#a6a6a6;stroke-width:0.3px'>(Blank)</text>
<text x="742.02" y="1813.00" textLength="69.09" lengthAdjust="spacingAndGlyphs" style='font-family:"Liberation Sans", sans-serif;font-size:21.6px;font-weight:normal;fill:#a6a6a6;stroke:#a6a6a6;stroke-width:0.3px'>(Blank)</text>
<text x="242.78" y="458.70" textLength="50.37" lengthAdjust="spacingAndGlyphs" style='font-family:"Liberation Sans", sans-serif;font-size:18.4px;font-weight:normal;fill:#2a2a2a;stroke:#2a2a2a;stroke-width:0.3px'>-1000</text>
<text x="307.78" y="458.70" textLength="38.99" lengthAdjust="spacingAndGlyphs" style='font-family:"Liberation Sans", sans-serif;font-size:18.4px;font-weight:normal;fill:#2a2a2a;stroke:#2a2a2a;stroke-width:0.3px'>-900</text>
<text x="362.88" y="458.70" textLength="38.15" lengthAdjust="spacingAndGlyphs" style='font-family:"Liberation Sans", sans-serif;font-size:18.4px;font-weight:normal;fill:#2a2a2a;stroke:#2a2a2a;stroke-width:0.3px'>-800</text>
<text x="416.85" y="458.70" textLength="39.14" lengthAdjust="spacingAndGlyphs" style='font-family:"Liberation Sans", sans-serif;font-size:18.4px;font-weight:normal;fill:#2a2a2a;stroke:#2a2a2a;stroke-width:0.3px'>-700</text>
<text x="476.75" y="458.70" textLength="38.51" lengthAdjust="spacingAndGlyphs" style='font-family:"Liberation Sans", sans-serif;font-size:18.4px;font-weight:normal;fill:#2a2a2a;stroke:#2a2a2a;stroke-width:0.3px'>-600</text>
<text x="534.75" y="458.70" textLength="37.98" lengthAdjust="spacingAndGlyphs" style='font-family:"Liberation Sans", sans-serif;font-size:18.4px;font-weight:normal;fill:#2a2a2a;stroke:#2a2a2a;stroke-width:0.3px'>-500</text>
<text x="593.75" y="458.70" textLength="38.51" lengthAdjust="spacingAndGlyphs" style='font-family:"Liberation Sans", sans-serif;font-size:18.4px;font-weight:normal;fill:#2a2a2a;stroke:#2a2a2a;stroke-width:0.3px'>-400</text>
<text x="652.73" y="458.70" textLength="38.14" lengthAdjust="spacingAndGlyphs" style='font-family:"Liberation Sans", sans-serif;font-size:18.4px;font-weight:normal;fill:#2a2a2a;stroke:#2a2a2a;stroke-width:0.3px'>-300</text>
<text x="710.85" y="458.70" textLength="39.14" lengthAdjust="spacingAndGlyphs" style='font-family:"Liberation Sans", sans-serif;font-size:18.4px;font-weight:normal;fill:#2a2a2a;stroke:#2a2a2a;stroke-width:0.3px'>-200</text>
<text x="770.73" y="458.70" textLength="38.14" lengthAdjust="spacingAndGlyphs" style='font-family:"Liberation Sans", sans-serif;font-size:18.4px;font-weight:normal;fill:#2a2a2a;stroke:#2a2a2a;stroke-width:0.3px'>-100</text>
<text x="843.05" y="458.70" textLength="10.68" lengthAdjust="spacingAndGlyphs" style='font-family:"Liberation Sans", sans-serif;font-size:18.4px;font-weight:normal;fill:#2a2a2a;stroke:#2a2a2a;stroke-width:0.3px'>0</text>
<text x="889.53" y="458.70" textLength="30.41" lengthAdjust="spacingAndGlyphs" style='font-family:"Liberation Sans", sans-serif;font-size:18.4px;font-weight:normal;fill:#2a2a2a;stroke:#2a2a2a;stroke-width:0.3px'>100</text>
<text x="946.74" y="458.70" textLength="31.44" lengthAdjust="spacingAndGlyphs" style='font-family:"Liberation Sans", sans-serif;font-size:18.4px;font-weight:normal;fill:#2a2a2a;stroke:#2a2a2a;stroke-width:0.3px'>200</text>
<text x="1004.19" y="458.70" textLength="31.95" lengthAdjust="spacingAndGlyphs" style='font-family:"Liberation Sans", sans-serif;font-size:18.4px;font-weight:normal;fill:#2a2a2a;stroke:#2a2a2a;stroke-width:0.3px'>300</text>
<text x="1062.09" y="458.70" textLength="31.99" lengthAdjust="spacingAndGlyphs" style='font-family:"Liberation Sans", sans-serif;font-size:18.4px;font-weight:normal;fill:#2a2a2a;stroke:#2a2a2a;stroke-width:0.3px'>400</text>
<text x="1119.02" y="458.70" textLength="31.91" lengthAdjust="spacingAndGlyphs" style='font-family:"Liberation Sans", sans-serif;font-size:18.4px;font-weight:normal;fill:#2a2a2a;stroke:#2a2a2a;stroke-width:0.3px'>500</text>
<text x="1180.20" y="458.70" textLength="32.65" lengthAdjust="spacingAndGlyphs" style='font-family:"Liberation Sans", sans-serif;font-size:18.4px;font-weight:normal;fill:#2a2a2a;stroke:#2a2a2a;stroke-width:0.3px'>600</text>
<text x="1238.30" y="458.70" textLength="31.58" lengthAdjust="spacingAndGlyphs" style='font-family:"Liberation Sans", sans-serif;font-size:18.4px;font-weight:normal;fill:#2a2a2a;stroke:#2a2a2a;stroke-width:0.3px'>700</text>
<text x="1290.94" y="458.70" textLength="32.90" lengthAdjust="spacingAndGlyphs" style='font-family:"Liberation Sans", sans-serif;font-size:18.4px;font-weight:normal;fill:#2a2a2a;stroke:#2a2a2a;stroke-width:0.3px'>800</text>
<text x="1352.68" y="458.70" textLength="32.28" lengthAdjust="spacingAndGlyphs" style='font-family:"Liberation Sans", sans-serif;font-size:18.4px;font-weight:normal;fill:#2a2a2a;stroke:#2a2a2a;stroke-width:0.3px'>900</text>
<text x="246.62" y="1079.70" textLength="49.51" lengthAdjust="spacingAndGlyphs" style='font-family:"Liberation Sans", sans-serif;font-size:17.8px;font-weight:normal;fill:#2a2a2a;stroke:#2a2a2a;stroke-width:0.3px'>-1000</text>
<text x="311.62" y="1079.70" textLength="38.51" lengthAdjust="spacingAndGlyphs" style='font-family:"Liberation Sans", sans-serif;font-size:17.8px;font-weight:normal;fill:#2a2a2a;stroke:#2a2a2a;stroke-width:0.3px'>-900</text>
<text x="366.03" y="1079.70" textLength="37.85" lengthAdjust="spacingAndGlyphs" style='font-family:"Liberation Sans", sans-serif;font-size:17.8px;font-weight:normal;fill:#2a2a2a;stroke:#2a2a2a;stroke-width:0.3px'>-800</text>
<text x="419.98" y="1079.70" textLength="38.04" lengthAdjust="spacingAndGlyphs" style='font-family:"Liberation Sans", sans-serif;font-size:17.8px;font-weight:normal;fill:#2a2a2a;stroke:#2a2a2a;stroke-width:0.3px'>-700</text>
<text x="478.87" y="1079.70" textLength="38.17" lengthAdjust="spacingAndGlyphs" style='font-family:"Liberation Sans", sans-serif;font-size:17.8px;font-weight:normal;fill:#2a2a2a;stroke:#2a2a2a;stroke-width:0.3px'>-600</text>
<text x="538.03" y="1079.70" textLength="37.85" lengthAdjust="spacingAndGlyphs" style='font-family:"Liberation Sans", sans-serif;font-size:17.8px;font-weight:normal;fill:#2a2a2a;stroke:#2a2a2a;stroke-width:0.3px'>-500</text>
<text x="595.90" y="1079.70" textLength="38.34" lengthAdjust="spacingAndGlyphs" style='font-family:"Liberation Sans", sans-serif;font-size:17.8px;font-weight:normal;fill:#2a2a2a;stroke:#2a2a2a;stroke-width:0.3px'>-400</text>
<text x="655.33" y="1079.70" textLength="37.77" lengthAdjust="spacingAndGlyphs" style='font-family:"Liberation Sans", sans-serif;font-size:17.8px;font-weight:normal;fill:#2a2a2a;stroke:#2a2a2a;stroke-width:0.3px'>-300</text>
<text x="713.64" y="1079.70" textLength="38.62" lengthAdjust="spacingAndGlyphs" style='font-family:"Liberation Sans", sans-serif;font-size:17.8px;font-weight:normal;fill:#2a2a2a;stroke:#2a2a2a;stroke-width:0.3px'>-200</text>
<text x="773.03" y="1079.70" textLength="37.85" lengthAdjust="spacingAndGlyphs" style='font-family:"Liberation Sans", sans-serif;font-size:17.8px;font-weight:normal;fill:#2a2a2a;stroke:#2a2a2a;stroke-width:0.3px'>-100</text>
<text x="844.57" y="1079.70" textLength="11.21" lengthAdjust="spacingAndGlyphs" style='font-family:"Liberation Sans", sans-serif;font-size:17.8px;font-weight:normal;fill:#2a2a2a;stroke:#2a2a2a;stroke-width:0.3px'>0</text>
<text x="890.90" y="1079.70" textLength="31.08" lengthAdjust="spacingAndGlyphs" style='font-family:"Liberation Sans", sans-serif;font-size:17.8px;font-weight:normal;fill:#2a2a2a;stroke:#2a2a2a;stroke-width:0.3px'>100</text>
<text x="948.07" y="1079.70" textLength="31.45" lengthAdjust="spacingAndGlyphs" style='font-family:"Liberation Sans", sans-serif;font-size:17.8px;font-weight:normal;fill:#2a2a2a;stroke:#2a2a2a;stroke-width:0.3px'>200</text>
<text x="1005.18" y="1079.70" textLength="31.72" lengthAdjust="spacingAndGlyphs" style='font-family:"Liberation Sans", sans-serif;font-size:17.8px;font-weight:normal;fill:#2a2a2a;stroke:#2a2a2a;stroke-width:0.3px'>300</text>
<text x="1063.56" y="1079.70" textLength="30.93" lengthAdjust="spacingAndGlyphs" style='font-family:"Liberation Sans", sans-serif;font-size:17.8px;font-weight:normal;fill:#2a2a2a;stroke:#2a2a2a;stroke-width:0.3px'>400</text>
<text x="1119.71" y="1079.70" textLength="31.83" lengthAdjust="spacingAndGlyphs" style='font-family:"Liberation Sans", sans-serif;font-size:17.8px;font-weight:normal;fill:#2a2a2a;stroke:#2a2a2a;stroke-width:0.3px'>500</text>
<text x="1181.14" y="1079.70" textLength="32.30" lengthAdjust="spacingAndGlyphs" style='font-family:"Liberation Sans", sans-serif;font-size:17.8px;font-weight:normal;fill:#2a2a2a;stroke:#2a2a2a;stroke-width:0.3px'>600</text>
<text x="1239.10" y="1079.70" textLength="31.40" lengthAdjust="spacingAndGlyphs" style='font-family:"Liberation Sans", sans-serif;font-size:17.8px;font-weight:normal;fill:#2a2a2a;stroke:#2a2a2a;stroke-width:0.3px'>700</text>
<text x="1291.34" y="1079.70" textLength="32.21" lengthAdjust="spacingAndGlyphs" style='font-family:"Liberation Sans", sans-serif;font-size:17.8px;font-weight:normal;fill:#2a2a2a;stroke:#2a2a2a;stroke-width:0.3px'>800</text>
<text x="1352.78" y="1079.70" textLength="32.52" lengthAdjust="spacingAndGlyphs" style='font-family:"Liberation Sans", sans-serif;font-size:17.8px;font-weight:normal;fill:#2a2a2a;stroke:#2a2a2a;stroke-width:0.3px'>900</text>
<text x="247.95" y="1701.20" textLength="49.24" lengthAdjust="spacingAndGlyphs" style='font-family:"Liberation Sans", sans-serif;font-size:17.8px;font-weight:normal;fill:#2a2a2a;stroke:#2a2a2a;stroke-width:0.3px'>-1000</text>
<text x="312.35" y="1701.20" textLength="38.60" lengthAdjust="spacingAndGlyphs" style='font-family:"Liberation Sans", sans-serif;font-size:17.8px;font-weight:normal;fill:#2a2a2a;stroke:#2a2a2a;stroke-width:0.3px'>-900</text>
<text x="366.64" y="1701.20" textLength="37.77" lengthAdjust="spacingAndGlyphs" style='font-family:"Liberation Sans", sans-serif;font-size:17.8px;font-weight:normal;fill:#2a2a2a;stroke:#2a2a2a;stroke-width:0.3px'>-800</text>
<text x="420.35" y="1701.20" textLength="38.60" lengthAdjust="spacingAndGlyphs" style='font-family:"Liberation Sans", sans-serif;font-size:17.8px;font-weight:normal;fill:#2a2a2a;stroke:#2a2a2a;stroke-width:0.3px'>-700</text>
<text x="480.03" y="1701.20" textLength="37.85" lengthAdjust="spacingAndGlyphs" style='font-family:"Liberation Sans", sans-serif;font-size:17.8px;font-weight:normal;fill:#2a2a2a;stroke:#2a2a2a;stroke-width:0.3px'>-600</text>
<text x="538.33" y="1701.20" textLength="37.77" lengthAdjust="spacingAndGlyphs" style='font-family:"Liberation Sans", sans-serif;font-size:17.8px;font-weight:normal;fill:#2a2a2a;stroke:#2a2a2a;stroke-width:0.3px'>-500</text>
<text x="596.64" y="1701.20" textLength="37.77" lengthAdjust="spacingAndGlyphs" style='font-family:"Liberation Sans", sans-serif;font-size:17.8px;font-weight:normal;fill:#2a2a2a;stroke:#2a2a2a;stroke-width:0.3px'>-400</text>
<text x="656.03" y="1701.20" textLength="37.85" lengthAdjust="spacingAndGlyphs" style='font-family:"Liberation Sans", sans-serif;font-size:17.8px;font-weight:normal;fill:#2a2a2a;stroke:#2a2a2a;stroke-width:0.3px'>-300</text>
<text x="713.85" y="1701.20" textLength="38.74" lengthAdjust="spacingAndGlyphs" style='font-family:"Liberation Sans", sans-serif;font-size:17.8px;font-weight:normal;fill:#2a2a2a;stroke:#2a2a2a;stroke-width:0.3px'>-200</text>
<text x="773.78" y="1701.20" textLength="37.34" lengthAdjust="spacingAndGlyphs" style='font-family:"Liberation Sans", sans-serif;font-size:17.8px;font-weight:normal;fill:#2a2a2a;stroke:#2a2a2a;stroke-width:0.3px'>-100</text>
<text x="844.56" y="1701.20" textLength="11.56" lengthAdjust="spacingAndGlyphs" style='font-family:"Liberation Sans", sans-serif;font-size:17.8px;font-weight:normal;fill:#2a2a2a;stroke:#2a2a2a;stroke-width:0.3px'>0</text>
<text x="891.38" y="1701.20" textLength="31.58" lengthAdjust="spacingAndGlyphs" style='font-family:"Liberation Sans", sans-serif;font-size:17.8px;font-weight:normal;fill:#2a2a2a;stroke:#2a2a2a;stroke-width:0.3px'>100</text>
<text x="948.63" y="1701.20" textLength="31.51" lengthAdjust="spacingAndGlyphs" style='font-family:"Liberation Sans", sans-serif;font-size:17.8px;font-weight:normal;fill:#2a2a2a;stroke:#2a2a2a;stroke-width:0.3px'>200</text>
<text x="1005.89" y="1701.20" textLength="31.62" lengthAdjust="spacingAndGlyphs" style='font-family:"Liberation Sans", sans-serif;font-size:17.8px;font-weight:normal;fill:#2a2a2a;stroke:#2a2a2a;stroke-width:0.3px'>300</text>
<text x="1063.78" y="1701.20" textLength="31.09" lengthAdjust="spacingAndGlyphs" style='font-family:"Liberation Sans", sans-serif;font-size:17.8px;font-weight:normal;fill:#2a2a2a;stroke:#2a2a2a;stroke-width:0.3px'>400</text>
<text x="1120.41" y="1701.20" textLength="31.16" lengthAdjust="spacingAndGlyphs" style='font-family:"Liberation Sans", sans-serif;font-size:17.8px;font-weight:normal;fill:#2a2a2a;stroke:#2a2a2a;stroke-width:0.3px'>500</text>
<text x="1181.28" y="1701.20" textLength="32.41" lengthAdjust="spacingAndGlyphs" style='font-family:"Liberation Sans", sans-serif;font-size:17.8px;font-weight:normal;fill:#2a2a2a;stroke:#2a2a2a;stroke-width:0.3px'>600</text>
<text x="1239.70" y="1701.20" textLength="31.42" lengthAdjust="spacingAndGlyphs" style='font-family:"Liberation Sans", sans-serif;font-size:17.8px;font-weight:normal;fill:#2a2a2a;stroke:#2a2a2a;stroke-width:0.3px'>700</text>
<text x="1295.52" y="1701.20" textLength="32.81" lengthAdjust="spacingAndGlyphs" style='font-family:"Liberation Sans", sans-serif;font-size:17.8px;font-weight:normal;fill:#2a2a2a;stroke:#2a2a2a;stroke-width:0.3px'>800</text>
<text x="1357.52" y="1701.20" textLength="32.29" lengthAdjust="spacingAndGlyphs" style='font-family:"Liberation Sans", sans-serif;font-size:17.8px;font-weight:normal;fill:#2a2a2a;stroke:#2a2a2a;stroke-width:0.3px'>900</text>
</g>
</svg>
</body>
</html>
